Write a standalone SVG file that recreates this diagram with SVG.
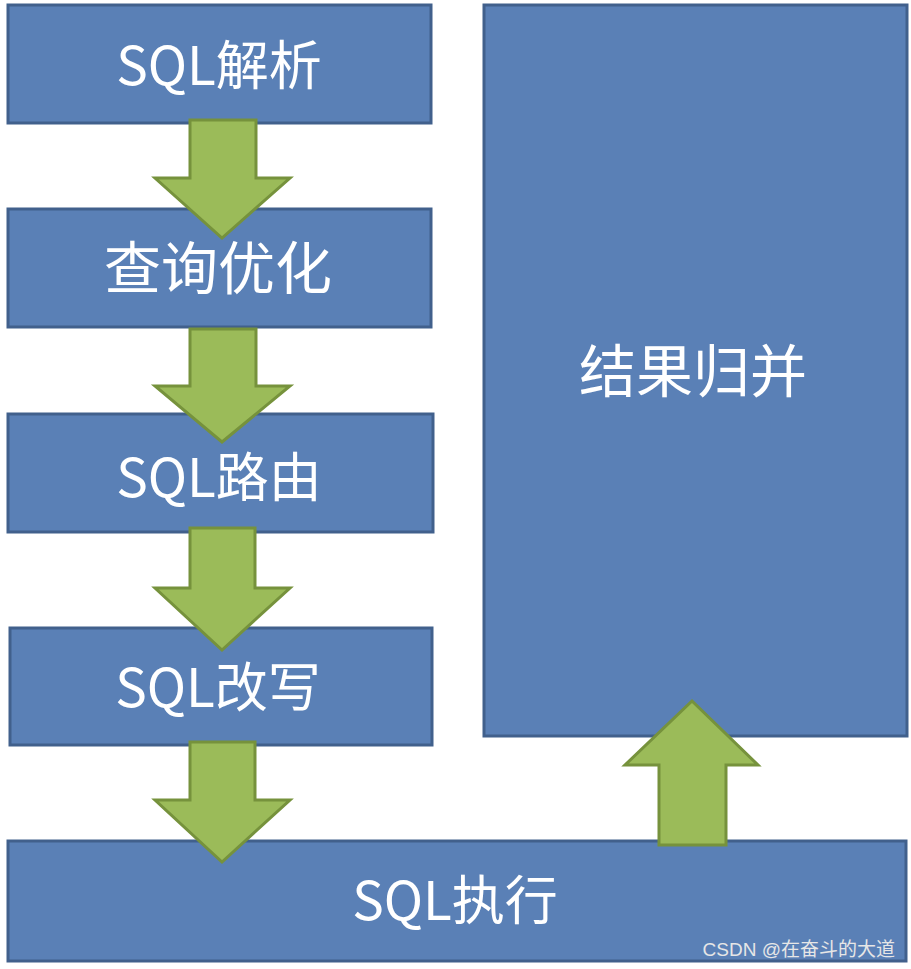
<svg xmlns="http://www.w3.org/2000/svg" width="911" height="969" viewBox="0 0 911 969">
<style>
.box{fill:#5a80b6;stroke:#41608c;stroke-width:3}
.arr{fill:#9bbb59;stroke:#76923c;stroke-width:3;stroke-linejoin:miter}
.lbl{fill:#ffffff;font-family:"Microsoft YaHei","Noto Sans CJK SC","Noto Sans",sans-serif;font-size:53px;text-anchor:middle}
.cjk{font-size:57px}
.wm{fill:#e6e6e6;font-family:"Liberation Sans","Noto Sans CJK SC",sans-serif;font-size:19px;text-anchor:end}
</style>
<rect width="911" height="969" fill="#ffffff"/>
<g id="n-merge"><rect class="box" x="484" y="5" width="423" height="731"/><text class="lbl cjk" x="693" y="392">结果归并</text></g>
<g id="n-parse"><rect class="box" x="8" y="5" width="423" height="118"/><text class="lbl" x="219" y="85">SQL解析</text></g>
<g id="n-opt"><rect class="box" x="8" y="209" width="423" height="118"/><text class="lbl cjk" x="218" y="289">查询优化</text></g>
<g id="n-route"><rect class="box" x="8" y="414" width="425" height="118"/><text class="lbl" x="219" y="497">SQL路由</text></g>
<g id="n-rewrite"><rect class="box" x="10" y="628" width="422" height="117"/><text class="lbl" x="218" y="707">SQL改写</text></g>
<g id="n-exec"><rect class="box" x="8" y="841" width="898" height="120"/><text class="lbl" x="455" y="920">SQL执行</text></g>
<g id="connectors">
<path class="arr" d="M190,120 H256 V178 H290 L222,238 L155,178 H190 Z"/>
<path class="arr" d="M190,329 H256 V386 H290 L222,442 L155,386 H190 Z"/>
<path class="arr" d="M190,528 H255 V588 H290 L222,650 L155,588 H190 Z"/>
<path class="arr" d="M190,742 H255 V800 H290 L222,862 L155,800 H190 Z"/>
<path class="arr" d="M659,845 H726 V765 H758 L692,701 L625,765 H659 Z"/>
</g>
<text class="wm" x="895" y="956">CSDN @在奋斗的大道</text>
</svg>
